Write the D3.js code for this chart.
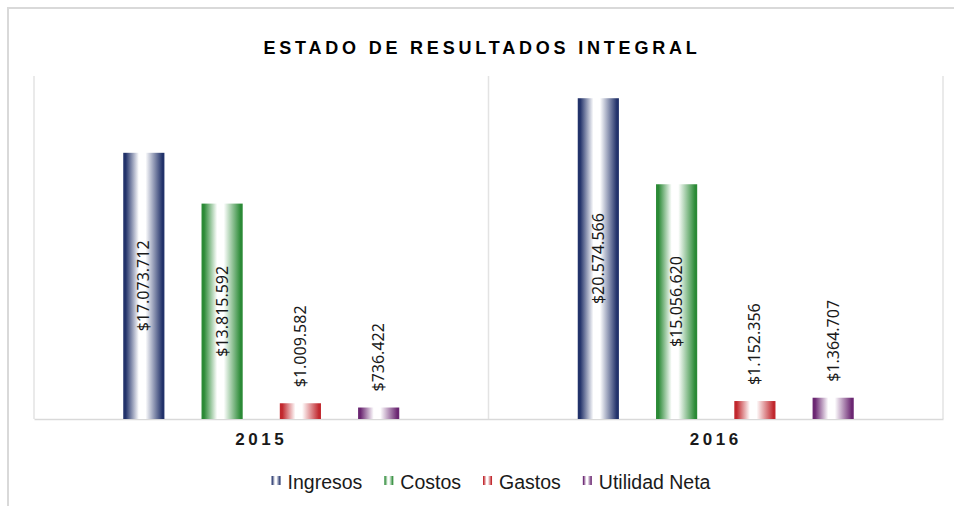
<!DOCTYPE html>
<html>
<head>
<meta charset="utf-8">
<script src="https://cdnjs.cloudflare.com/ajax/libs/d3/7.8.5/d3.min.js"></script>
<style>
  body { margin: 0; background: #fff; }
  svg { display: block; }
</style>
</head>
<body>
<script>
var years = ["2015", "2016"];
var seriesNames = ["Ingresos", "Costos", "Gastos", "Utilidad Neta"];
var ingresos = [17073712, 20574566];
var costos = [13815592, 15056620];
var gastos = [1009582, 1152356];
var utilidad = [736422, 1364707];
var seriesColors = ["#22326a", "#2b8a36", "#c1282e", "#6b2772"];
var title = "ESTADO DE RESULTADOS INTEGRAL";

var W = 954, H = 506;
var plot = {left: 34, right: 943, top: 76, bottom: 419};

var svg = d3.select("body").append("svg")
    .attr("width", W)
    .attr("height", H);

// outer chart frame (runs off the right/bottom of the picture)
svg.append("rect")
    .attr("x", 8).attr("y", 8)
    .attr("width", W + 20).attr("height", H + 20)
    .attr("fill", "none")
    .attr("stroke", "#d9d9d9")
    .attr("stroke-width", 2);

var defs = svg.append("defs");
seriesNames.forEach(function(name, i) {
    var g = defs.append("linearGradient")
	.attr("id", "grad" + i)
	.attr("x1", "0%").attr("x2", "100%")
	.attr("y1", "0%").attr("y2", "0%");
    g.append("stop").attr("offset", "0%").attr("stop-color", seriesColors[i]);
    g.append("stop").attr("offset", "6%").attr("stop-color", seriesColors[i]);
    g.append("stop").attr("offset", "38%").attr("stop-color", "#ffffff");
    g.append("stop").attr("offset", "54%").attr("stop-color", "#ffffff");
    g.append("stop").attr("offset", "95%").attr("stop-color", seriesColors[i]);
    g.append("stop").attr("offset", "100%").attr("stop-color", seriesColors[i]);
});

var data = years.map(function(yr, j) {
    return {year: yr, values: [ingresos[j], costos[j], gastos[j], utilidad[j]].map(function(v, i) {
	return {name: seriesNames[i], idx: i, value: v};
    })};
});

var x0 = d3.scaleBand()
    .domain(years)
    .range([plot.left, plot.right])
    .padding(0);

var x1 = d3.scaleBand()
    .domain(seriesNames)
    .range([0, x0.bandwidth()])
    .paddingInner(0.474)
    .paddingOuter(1.14);

var y = d3.scaleLinear()
    .domain([0, 22000000])
    .range([plot.bottom, plot.top]);

// plot area lines
svg.append("g")
    .attr("class", "grid")
    .selectAll("line")
    .data(d3.range(years.length + 1))
    .enter().append("line")
    .attr("x1", function(d) { return d < years.length ? x0(years[d]) : x0(years[d - 1]) + x0.bandwidth(); })
    .attr("x2", function(d) { return d < years.length ? x0(years[d]) : x0(years[d - 1]) + x0.bandwidth(); })
    .attr("y1", plot.top)
    .attr("y2", plot.bottom)
    .attr("stroke", "#e3e3e3")
    .attr("stroke-width", 1.5);

var xAxis = d3.axisBottom(x0)
    .tickSize(0)
    .tickPadding(14);

var axisG = svg.append("g")
    .attr("class", "x axis")
    .attr("transform", "translate(0," + plot.bottom + ")")
    .call(xAxis);
axisG.select(".domain")
    .attr("stroke", "#d9d9d9")
    .attr("stroke-width", 1.5);
axisG.selectAll("text")
    .attr("font-family", "Liberation Sans, Arial, sans-serif")
    .attr("font-size", "17px")
    .attr("font-weight", "bold")
    .attr("letter-spacing", "3.5px")
    .attr("fill", "#1a1a1a");

var group = svg.selectAll(".year")
    .data(data)
    .enter().append("g")
    .attr("class", "year")
    .attr("transform", function(d) { return "translate(" + x0(d.year) + ",0)"; });

group.selectAll("rect")
    .data(function(d) { return d.values; })
    .enter().append("rect")
    .attr("x", function(d) { return x1(d.name); })
    .attr("width", x1.bandwidth())
    .attr("y", function(d) { return y(d.value); })
    .attr("height", function(d) { return y(0) - y(d.value); })
    .style("fill", function(d) { return "url(#grad" + d.idx + ")"; });

var fmt = function(v) { return "$" + d3.format(",")(v).replace(/,/g, "."); };

group.selectAll("text.lbl")
    .data(function(d) { return d.values; })
    .enter().append("text")
    .attr("class", "lbl")
    .attr("font-family", "Noto Sans, DejaVu Sans, sans-serif")
    .attr("font-size", "16px")
    .attr("fill", "#1a1a1a")
    .attr("dy", "0.35em")
    .text(function(d) { return fmt(d.value); })
    .each(function(d) {
	var t = d3.select(this);
	var len = this.getComputedTextLength();
	var cx = x1(d.name) + x1.bandwidth() / 2;
	var barH = y(0) - y(d.value);
	var yy, anchor;
	if (barH > len + 30) {
	    yy = (y(0) + y(d.value)) / 2;
	    anchor = "middle";
	} else {
	    yy = y(d.value) - 16;
	    anchor = "start";
	}
	t.attr("text-anchor", anchor)
	    .attr("transform", "translate(" + cx + "," + yy + ") rotate(-90)");
    });

// title
svg.append("text")
    .attr("x", 482)
    .attr("y", 54)
    .attr("text-anchor", "middle")
    .attr("font-family", "Liberation Sans, Arial, sans-serif")
    .attr("font-size", "18px")
    .attr("font-weight", "bold")
    .attr("letter-spacing", "3.8px")
    .attr("fill", "#000")
    .text(title);

// legend
var legend = svg.append("g").attr("class", "legend");
var items = legend.selectAll("g")
    .data(seriesNames)
    .enter().append("g");
items.append("rect")
    .attr("width", 9)
    .attr("height", 9)
    .attr("y", -13)
    .style("fill", function(d, i) { return "url(#grad" + i + ")"; });
items.append("text")
    .attr("x", 16)
    .attr("font-family", "Liberation Sans, Arial, sans-serif")
    .attr("font-size", "19.5px")
    .attr("fill", "#1a1a1a")
    .text(function(d) { return d; });
var off = 0;
items.each(function() {
    var w = d3.select(this).select("text").node().getComputedTextLength();
    d3.select(this).attr("transform", "translate(" + off + ",0)");
    off += 16 + w + 22;
});
var legW = off - 22;
legend.attr("transform", "translate(" + (491 - legW / 2) + ",489)");
</script>
</body>
</html>
